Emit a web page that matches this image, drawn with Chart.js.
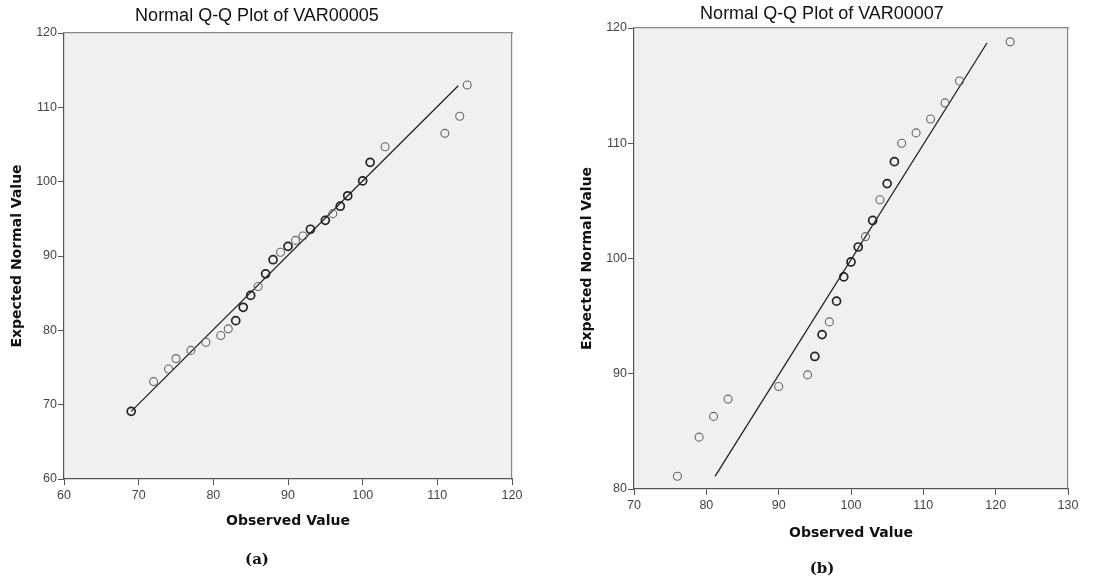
<!DOCTYPE html>
<html lang="en">
<head>
<meta charset="UTF-8" />
<title>Normal Q-Q Plots</title>
<style>
  body { margin:0; background:#fff; }
  .panel { position:absolute; top:0; height:583px; }
  #wrap-a { left:0; width:540px; }
  #wrap-b { left:560px; width:555px; }
</style>
</head>
<body>
<div class="panel" id="wrap-a"><canvas id="chart-a"></canvas></div>
<div class="panel" id="wrap-b"><canvas id="chart-b"></canvas></div>

<script src="https://cdn.jsdelivr.net/npm/chart.js"></script>
<script>
// Panel (a): VAR00005
const titleA = 'Normal Q-Q Plot of VAR00005';
const captionA = '(a)';
const obsA = [69, 72, 74, 75, 77, 79, 81, 82, 83, 84, 85, 86, 87, 88, 89, 90, 91, 92, 93, 95,
              96, 97, 98, 100, 101, 103, 111, 113, 114];
const expA = [69.1, 73.1, 74.8, 76.2, 77.3, 78.4, 79.3, 80.2, 81.3, 83.1, 84.7, 85.9, 87.6, 89.5,
              90.5, 91.3, 92.1, 92.7, 93.6, 94.8, 95.7, 96.7, 98.1, 100.1, 102.6, 104.7, 106.5,
              108.8, 113.0];
const tiesA = [2, 1, 1, 1, 1, 1, 1, 1, 2, 2, 2, 1, 2, 2, 1, 2, 1, 1, 2, 2, 1, 2, 2, 2, 2, 1, 1, 1, 1];
const lineXA = [69, 112.8];
const lineYA = [69.1, 112.9];
const xTicksA = [60, 70, 80, 90, 100, 110, 120];
const yTicksA = [60, 70, 80, 90, 100, 110, 120];

// Panel (b): VAR00007
const titleB = 'Normal Q-Q Plot of VAR00007';
const captionB = '(b)';
const obsB = [76, 79, 81, 83, 90, 94, 95, 96, 97, 98, 99, 100, 101, 102, 103, 104, 105, 106,
              107, 109, 111, 113, 115, 122];
const expB = [81.1, 84.5, 86.3, 87.8, 88.9, 89.9, 91.5, 93.4, 94.5, 96.3, 98.4, 99.7, 101.0,
              101.9, 103.3, 105.1, 106.5, 108.4, 110.0, 110.9, 112.1, 113.5, 115.4, 118.8];
const tiesB = [1, 1, 1, 1, 1, 1, 2, 2, 1, 2, 2, 2, 2, 1, 2, 1, 2, 2, 1, 1, 1, 1, 1, 1];
const lineXB = [81.2, 118.8];
const lineYB = [81.1, 118.7];
const xTicksB = [70, 80, 90, 100, 110, 120, 130];
const yTicksB = [80, 90, 100, 110, 120];

// grey plot background behind the chart area
const plotBg = {
  id: 'plotBg',
  beforeDraw(chart) {
    const { ctx, chartArea: a } = chart;
    ctx.save();
    ctx.fillStyle = '#f0f0f0';
    ctx.fillRect(a.left, a.top, a.right - a.left, a.bottom - a.top);
    ctx.restore();
  }
};

function qqChart(id, d, g) {
  const tickFont = { family: 'Liberation Sans', size: 12.5 };
  const axisFont = { family: 'DejaVu Sans', size: 14, weight: 'bold' };
  const first = a => a[0], last = a => a[a.length - 1];

  return new Chart(document.getElementById(id), {
    type: 'scatter',
    data: {
      datasets: [{
        data: d.obs.map((x, i) => ({ x, y: d.exp[i] })),
        pointRadius: 4,
        pointBackgroundColor: 'rgba(0,0,0,0)',
        pointBorderColor: d.ties.map(t => t > 1 ? '#222' : '#666'),
        pointBorderWidth: d.ties.map(t => t > 1 ? 1.7 : 1.1),
        showLine: false
      }, {
        data: d.lineX.map((x, i) => ({ x, y: d.lineY[i] })),
        showLine: true,
        borderColor: '#222',
        borderWidth: 1.3,
        pointRadius: 0
      }]
    },
    options: {
      responsive: true,
      maintainAspectRatio: false,
      animation: false,
      layout: { padding: { left: 0, right: g.padR, top: 0, bottom: 0 } },
      plugins: {
        legend: { display: false },
        tooltip: { enabled: false },
        title: {
          display: true, text: d.title, color: '#111',
          font: { family: 'Liberation Sans', size: 18, weight: 'normal' },
          padding: g.titlePad
        },
        subtitle: {
          display: true, position: 'bottom', text: d.caption, color: '#111',
          font: { family: 'DejaVu Serif', size: 15, weight: 'bold' },
          padding: g.capPad
        }
      },
      scales: {
        x: {
          type: 'linear', position: 'bottom',
          min: first(d.xTicks), max: last(d.xTicks),
          afterBuildTicks: s => { s.ticks = d.xTicks.map(v => ({ value: v })); },
          ticks: { color: '#444', font: tickFont, padding: 3, maxRotation: 0, autoSkip: false },
          grid: { drawOnChartArea: false, drawTicks: true, tickLength: 6, color: '#555' },
          border: { color: '#555', width: 1.2 },
          title: { display: true, text: 'Observed Value', color: '#111', font: axisFont,
                   padding: { top: 0, bottom: 5.6 } },
          afterFit: s => { s.height = g.xH; }
        },
        y: {
          type: 'linear', position: 'left',
          min: first(d.yTicks), max: last(d.yTicks),
          afterBuildTicks: s => { s.ticks = d.yTicks.map(v => ({ value: v })); },
          ticks: { color: '#444', font: tickFont, padding: 1, autoSkip: false },
          grid: { drawOnChartArea: false, drawTicks: true, tickLength: 6, color: '#555' },
          border: { color: '#555', width: 1.2 },
          title: { display: true, text: 'Expected Normal Value', color: '#111', font: axisFont,
                   padding: { top: g.yTitlePad, bottom: 0 } },
          afterFit: s => { s.width = g.yW; }
        },
        x2: {
          type: 'linear', position: 'top',
          min: first(d.xTicks), max: last(d.xTicks),
          ticks: { display: false }, grid: { display: false },
          border: { color: '#888', width: 1.2 },
          afterFit: s => { s.height = 0; }
        },
        y2: {
          type: 'linear', position: 'right',
          min: first(d.yTicks), max: last(d.yTicks),
          ticks: { display: false }, grid: { display: false },
          border: { color: '#888', width: 1.2 },
          afterFit: s => { s.width = g.y2W; }
        }
      }
    },
    plugins: [plotBg]
  });
}

qqChart('chart-a',
  { title: titleA, caption: captionA, obs: obsA, exp: expA, ties: tiesA,
    lineX: lineXA, lineY: lineYA, xTicks: xTicksA, yTicks: yTicksA },
  { padR: 26, y2W: 2, yW: 64, yTitlePad: 8.6, xH: 56,
    titlePad: { top: 5.4, bottom: 6 }, capPad: { top: 16, bottom: 14 } });

qqChart('chart-b',
  { title: titleB, caption: captionB, obs: obsB, exp: expB, ties: tiesB,
    lineX: lineXB, lineY: lineYB, xTicks: xTicksB, yTicks: yTicksB },
  { padR: 31, y2W: 16, yW: 74, yTitlePad: 18.6, xH: 58,
    titlePad: { top: 3.2, bottom: 3.2 }, capPad: { top: 13, bottom: 5 } });
</script>
</body>
</html>
